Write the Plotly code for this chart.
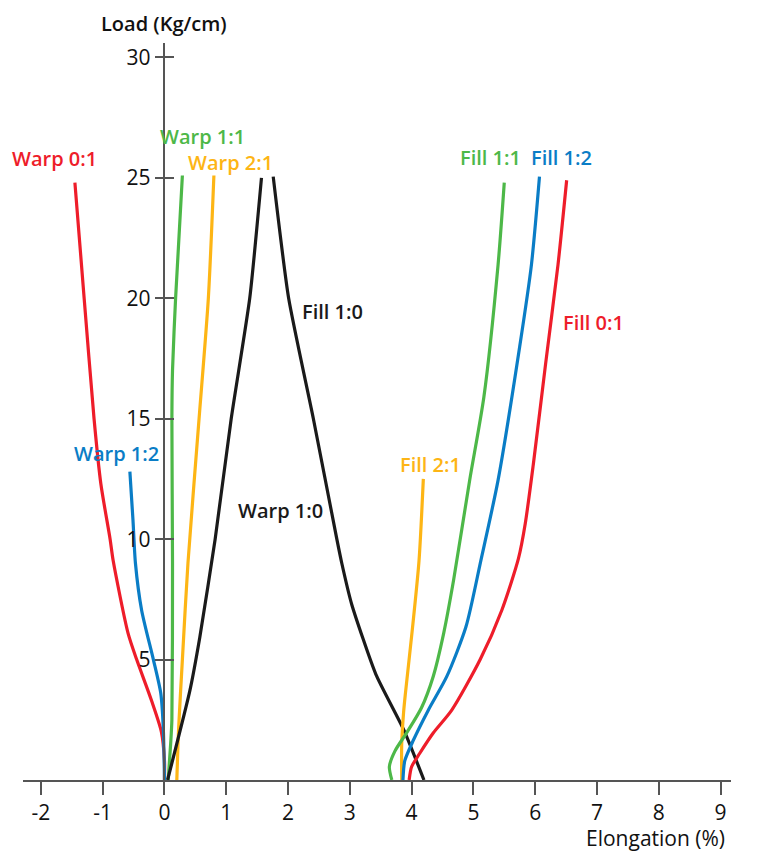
import plotly.graph_objects as go

# ---- data (Elongation %, Load Kg/cm) ----
warp01_x = [0.0, 0.0, -0.05, -0.21, -0.45, -0.59, -0.83, -0.88, -1.03, -1.14, -1.30, -1.45]
warp01_y = [0.0, 0.8, 2.0, 3.3, 5.0, 6.1, 9.1, 10.0, 12.3, 15.0, 20.0, 24.8]

warp12_x = [0.0, -0.02, -0.06, -0.18, -0.37, -0.47, -0.51, -0.56]
warp12_y = [0.0, 2.2, 3.6, 5.0, 7.05, 9.0, 10.8, 12.8]

warp11_x = [0.06, 0.10, 0.12, 0.13, 0.12, 0.13, 0.18, 0.29]
warp11_y = [0.0, 1.5, 2.5, 9.0, 15.0, 17.0, 20.0, 25.1]

warp21_x = [0.20, 0.23, 0.29, 0.38, 0.56, 0.71, 0.80]
warp21_y = [0.0, 2.2, 5.0, 9.0, 15.0, 20.0, 25.1]

warp10_x = [0.05, 0.41, 0.57, 0.82, 1.08, 1.38, 1.57]
warp10_y = [0.0, 3.7, 5.9, 10.0, 15.0, 20.0, 25.0]

fill10_x = [4.20, 3.87, 3.42, 3.03, 2.87, 2.79, 2.41, 2.01, 1.76]
fill10_y = [0.0, 2.1, 4.4, 7.3, 9.0, 10.0, 15.0, 20.0, 25.05]

fill21_x = [3.84, 3.84, 3.87, 3.90, 4.01, 4.12, 4.19]
fill21_y = [0.0, 1.5, 2.8, 3.6, 6.2, 9.1, 12.5]

fill11_x = [3.68, 3.64, 3.73, 3.93, 4.16, 4.35, 4.52, 4.68, 4.94, 5.17, 5.40, 5.50]
fill11_y = [0.0, 0.55, 1.2, 2.0, 3.0, 4.3, 6.1, 8.3, 12.45, 15.9, 21.4, 24.8]

fill12_x = [3.86, 3.89, 4.03, 4.27, 4.57, 4.88, 5.12, 5.40, 5.75, 5.94, 6.07]
fill12_y = [0.0, 0.8, 1.66, 2.9, 4.3, 6.36, 9.1, 12.45, 18.0, 21.4, 25.05]

fill01_x = [3.96, 4.00, 4.13, 4.35, 4.65, 5.11, 5.46, 5.73, 5.84, 5.97, 6.17, 6.37, 6.51]
fill01_y = [0.0, 0.55, 1.1, 1.95, 2.9, 5.0, 7.05, 9.2, 10.65, 13.1, 17.3, 21.4, 24.9]

x_ticks = [-2, -1, 0, 1, 2, 3, 4, 5, 6, 7, 8, 9]
y_ticks = [5, 10, 15, 20, 25, 30]

# label names and anchor points (data coords)
labels = ["Warp 0:1", "Warp 1:1", "Warp 2:1", "Warp 1:2", "Fill 1:0", "Warp 1:0",
          "Fill 2:1", "Fill 1:1", "Fill 1:2", "Fill 0:1"]
label_x = [-1.78, 0.61, 1.07, -0.77, 2.72, 1.87, 4.30, 5.28, 6.43, 6.95]
label_y = [25.8, 26.7, 25.65, 13.55, 19.45, 11.2, 13.1, 25.86, 25.84, 19.0]

RED = "#EE1D2A"
GREEN = "#4DB848"
BLUE = "#0A7DC6"
ORANGE = "#FDB515"
BLACK = "#1A1A1A"
label_colors = [RED, GREEN, ORANGE, BLUE, BLACK, BLACK, ORANGE, GREEN, BLUE, RED]

XMIN, XMAX = -2.29, 9.17
YMIN, YMAX = 0.0, 30.6

fig = go.Figure()

series = [
    (warp01_x, warp01_y, RED, 0.7),
    (warp12_x, warp12_y, BLUE, 0.7),
    (warp11_x, warp11_y, GREEN, 0.7),
    (warp21_x, warp21_y, ORANGE, 0.7),
    (warp10_x, warp10_y, BLACK, 0.55),
    (fill10_x, fill10_y, BLACK, 0.55),
    (fill21_x, fill21_y, ORANGE, 0.7),
    (fill11_x, fill11_y, GREEN, 0.7),
    (fill12_x, fill12_y, BLUE, 0.7),
    (fill01_x, fill01_y, RED, 0.7),
]
for xs, ys, col, sm in series:
    fig.add_trace(go.Scatter(x=xs, y=ys, mode="lines",
                             line=dict(color=col, width=3.2, shape="spline", smoothing=sm),
                             showlegend=False, hoverinfo="skip", cliponaxis=False))

# invisible trace on the overlay y-axis (for crossing tick marks)
fig.add_trace(go.Scatter(x=[0], y=[0], yaxis="y2", mode="markers",
                         marker=dict(opacity=0), showlegend=False, hoverinfo="skip"))

FONT = "Open Sans"
for t, x, y, c in zip(labels, label_x, label_y, label_colors):
    fig.add_annotation(x=x, y=y, xref="x", yref="y", text=t, showarrow=False,
                       font=dict(family=FONT, size=20, color=c, weight=600),
                       xanchor="center", yanchor="middle")

ypos = (0 - XMIN) / (XMAX - XMIN)

fig.add_annotation(x=ypos, y=1, xref="paper", yref="paper", text="Load (Kg/cm)",
                   showarrow=False, yshift=20, xanchor="center", yanchor="middle",
                   borderpad=0,
                   font=dict(family=FONT, size=20, color="#111111", weight=600))
fig.add_annotation(x=1, y=0, xref="paper", yref="paper", text="Elongation (%)",
                   showarrow=False, yshift=-58, xshift=-4, xanchor="right", yanchor="middle",
                   font=dict(family=FONT, size=21, color="#111111"))

axis_col = "#555555"
fig.update_layout(
    width=749, height=845,
    margin=dict(l=15, r=26, t=35, b=73),
    paper_bgcolor="white", plot_bgcolor="white",
    xaxis=dict(range=[XMIN, XMAX], tickvals=x_ticks, ticktext=[str(v) for v in x_ticks],
               showgrid=False, zeroline=False, showline=True, linecolor=axis_col, linewidth=1.5,
               ticks="outside", ticklen=13, tickwidth=1.5, tickcolor=axis_col,
               tickfont=dict(family=FONT, size=21, color="#111111")),
    yaxis=dict(range=[YMIN, YMAX], tickvals=y_ticks, ticktext=[str(v) for v in y_ticks],
               anchor="free", position=ypos,
               showgrid=False, zeroline=False, showline=True, linecolor=axis_col, linewidth=1.5,
               ticks="outside", ticklen=9, tickwidth=1.5, tickcolor=axis_col,
               tickfont=dict(family=FONT, size=21, color="#111111")),
    yaxis2=dict(range=[YMIN, YMAX], tickvals=y_ticks, overlaying="y",
                anchor="free", position=ypos, showticklabels=False,
                showgrid=False, zeroline=False, showline=False,
                ticks="inside", ticklen=9, tickwidth=1.5, tickcolor=axis_col),
)

fig.write_html("out.html")
